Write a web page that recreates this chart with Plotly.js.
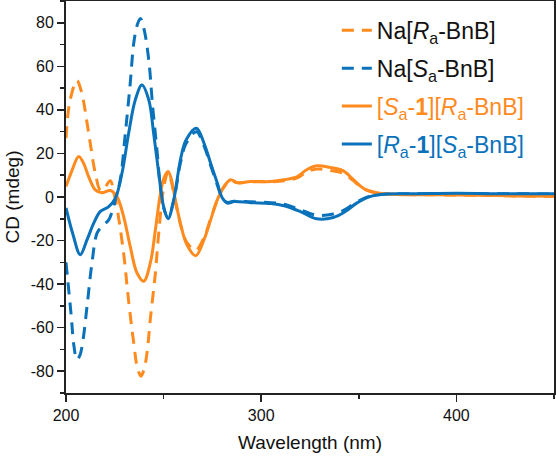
<!DOCTYPE html>
<html>
<head>
<meta charset="utf-8">
<script src="https://cdn.plot.ly/plotly-3.0.1.min.js"></script>
<style>html,body{margin:0;padding:0;background:#fff}#chart{width:556px;height:456px}</style>
</head>
<body>
<div id="chart"></div>
<script>
// Na[Ra-BnB] (orange dashed)
const wlNaR = [200,202,205.6,208,211.6,215,217.7,220,222.7,224.5,226,229.5,232,234.7,236.5,238.4,240,241.5,243.2,245.8,247.5,250,252.3,254,256,259.4,262,266.4,270.7,274.1,277.5,280.9,284.4,287.8,294.6,305,311.7,318.5,323.3,328.4,335.2,342.1,347.2,352.3,359.2,370,390,410,430,450];
const cdNaR = [27,44,53.5,48,29.4,11,3,4.5,7.5,2,-4.3,-25.7,-47,-67,-78,-82.3,-79,-71.6,-56,-34.9,-16.5,4,11.5,7,-2,-15,-21,-24.5,-18.5,-10,-1.5,4.5,7.5,6.5,7,7,7.5,8.8,11.5,12.8,12.2,10.8,7.5,3.8,1.8,1.2,1,0.8,0.5,0.3];

// Na[Sa-BnB] (blue dashed)
const wlNaS = [200,202.7,204,205.6,207,208.5,210.8,213.3,215.9,218.4,221.9,223.5,225.3,227.8,230.4,232.9,234.7,236.5,238.1,240,242.4,244.4,246.6,248.5,250,252.3,255.2,258.6,261.5,266.8,270.7,274.1,277.5,280.1,282.6,286.1,294.6,305,311.7,319.9,328.4,336.9,342.9,348.9,355.7,362.5,380,400,420,450];
const cdNaS = [-30,-54.8,-68,-74.6,-73,-67,-50,-30.3,-16.6,-13.5,-10.5,-7,-1.3,7.9,29.3,52.2,70.6,79,82,77,62.9,41.5,21.6,3,-5,-9.5,-1.5,15.5,24.5,30,23.5,14.5,5.5,-0.5,-2.5,-2,-2.2,-2.6,-3.3,-5.8,-8.4,-7.8,-5.8,-2.3,0.4,1.3,1.5,1.6,1.5,1.4];

// [Sa-1][Ra-BnB] (orange solid)
const wlSR = [200,203,206.5,209,211.6,215,218.4,222.7,226.1,229.5,232.9,236.4,239.8,243.2,245.8,248.4,250.3,252.3,254,256,259.4,262,266.4,270.7,274.1,277.5,280.9,284.4,287.8,294.6,305,311.7,318.5,323.3,328.4,335.2,342.1,347.2,352.3,359.2,370,390,410,430,450];
const cdSR = [4.8,12,18.6,15.5,9.4,3.3,2,3,0.2,-8.9,-22.7,-34.9,-38.7,-30.3,-15,1.8,9,11.7,8,-1.3,-15,-22,-27,-19.6,-10.5,-1.3,4.8,7.9,6.6,7.1,7.1,7.9,9.4,12.5,14.3,13.6,12,8,4,2,1.2,1,0.8,0.5,0.3];

// [Ra-1][Sa-BnB] (blue solid)
const wlRS = [200,203.5,207.3,210.8,214.2,217.6,221.9,225.3,228.7,232.1,235.5,238.9,242.4,244.9,247.5,250,252.3,255.2,258.6,261.5,266.8,270.7,274.1,277.5,280.1,282.6,286.1,294.6,305,311.7,319.9,328.4,336.9,342.9,348.9,355.7,362.5,380,400,420,450];
const cdRS = [-5,-17,-26.5,-19.6,-12,-6.6,-4.4,-0.5,11,29.3,44.6,51.4,44.6,29.3,11,-4.4,-10,-1.3,17,26.2,31.6,24.7,15.5,6.4,-0.5,-2.8,-2.1,-2.6,-3,-4,-6.6,-10,-9.4,-6.8,-2.8,0.2,1.3,1.5,1.7,1.5,1.5];

const xTicks = [200,300,400];
const yTicks = [-80,-60,-40,-20,0,20,40,60,80];

const ORANGE = '#FF8A1E';
const BLUE = '#0A72BA';

const traces = [
  {x: wlNaR, y: cdNaR, name: 'Na[<i>R</i><sub>a</sub>-BnB]', legendgroup:'a',
   line:{color:ORANGE, width:3, dash:'12px,8px', shape:'spline', smoothing:1}},
  {x: wlNaS, y: cdNaS, name: 'Na[<i>S</i><sub>a</sub>-BnB]', legendgroup:'b',
   line:{color:BLUE, width:3, dash:'12px,8px', shape:'spline', smoothing:1}},
  {x: wlSR, y: cdSR, name: '<span style="color:'+ORANGE+'">[<i>S</i><sub>a</sub>-<b>1</b>][<i>R</i><sub>a</sub>-BnB]</span>', legendgroup:'c',
   line:{color:ORANGE, width:3, shape:'spline', smoothing:1}},
  {x: wlRS, y: cdRS, name: '<span style="color:'+BLUE+'">[<i>R</i><sub>a</sub>-<b>1</b>][<i>S</i><sub>a</sub>-BnB]</span>', legendgroup:'d',
   line:{color:BLUE, width:3, shape:'spline', smoothing:1}}
].map(t => Object.assign({type:'scatter', mode:'lines'}, t));

const font = 'Arial, "Liberation Sans", sans-serif';

const layout = {
  width: 556, height: 456,
  margin: {l:66, r:2, t:1, b:63},
  paper_bgcolor: '#fff', plot_bgcolor: '#fff',
  font: {family: font, size: 16, color: '#111'},
  showlegend: true,
  legend: {x: 0.555, y: 0.98, xanchor: 'left', yanchor: 'top',
           bgcolor: 'rgba(0,0,0,0)', font: {family: font, size: 23, color: '#111'},
           tracegroupgap: 5, traceorder: 'grouped'},
  xaxis: {range: [200, 450], tickvals: xTicks, ticktext: xTicks.map(String),
          ticks: 'outside', ticklen: 7, tickwidth: 1.5, tickcolor: '#222',
          minor: {dtick: 50, tick0: 200, ticks: 'outside', ticklen: 4, tickwidth: 1.5, tickcolor:'#222'},
          showline: true, linecolor: '#222', linewidth: 2, mirror: true,
          showgrid: false, zeroline: false,
          tickfont: {size: 16}, title: {text: 'Wavelength (nm)', font: {size: 19}, standoff: 12}},
  yaxis: {range: [-90, 90], tickvals: yTicks, ticktext: yTicks.map(String),
          ticks: 'outside', ticklen: 7, tickwidth: 1.5, tickcolor: '#222',
          minor: {dtick: 10, tick0: 0, ticks: 'outside', ticklen: 4, tickwidth: 1.5, tickcolor:'#222'},
          showline: true, linecolor: '#222', linewidth: 2, mirror: true,
          showgrid: false, zeroline: false,
          tickfont: {size: 16}, title: {text: 'CD (mdeg)', font: {size: 19}, standoff: 6}}
};

Plotly.newPlot('chart', traces, layout, {displayModeBar: false, staticPlot: true});
</script>
</body>
</html>
